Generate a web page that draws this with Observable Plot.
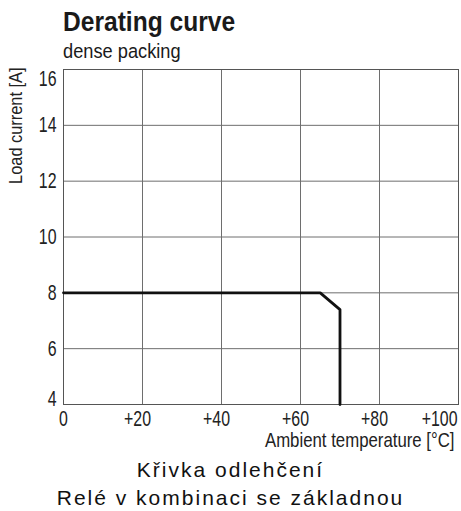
<!DOCTYPE html>
<html>
<head>
<meta charset="utf-8">
<script src="https://cdn.jsdelivr.net/npm/d3@7"></script>
<script src="https://cdn.jsdelivr.net/npm/@observablehq/plot@0.6"></script>
<style>
  html, body { margin: 0; padding: 0; background: #fff; }
  #wrap { position: relative; width: 461px; height: 511px; overflow: hidden; }
  .t { position: absolute; line-height: 1; white-space: nowrap; color: #1a1a1a;
       font-family: "Liberation Sans", Arial, sans-serif; transform-origin: 0 0; }
  #title { left: 63px; top: 9px; font-size: 27px; font-weight: bold; transform: scaleX(0.91); }
  #subtitle { left: 63px; top: 41px; font-size: 20.5px; transform: scaleX(0.89); }
  .cap { left: 0; width: 461px; text-align: center; font-size: 21px; letter-spacing: 2px; color: #111; }
  #chart { position: absolute; left: 0; top: 0; }
</style>
</head>
<body>
<div id="wrap">
  <div id="chart"></div>
  <div id="title" class="t">Derating curve</div>
  <div id="subtitle" class="t">dense packing</div>
  <div id="cap1" class="t cap" style="top:459px">Křivka odlehčení</div>
  <div id="cap2" class="t cap" style="top:487px">Relé v kombinaci se základnou</div>
</div>
<script>
// Data
const temperature = [0, 65, 70, 70];      // °C
const loadCurrent = [8, 8, 7.4, 4];       // A
const xTicks = [0, 20, 40, 60, 80, 100];
const yTicks = [4, 6, 8, 10, 12, 14, 16];
const xLabel = "Ambient temperature [°C]";
const yLabel = "Load current [A]";

const curve = temperature.map((t, i) => ({t, a: loadCurrent[i]}));
const fmtX = d => d === 0 ? "0" : "+" + d;
const fontFam = '"Liberation Sans", Arial, sans-serif';
const ink = "#222";

const chart = Plot.plot({
  width: 461,
  height: 455,
  marginTop: 69,
  marginLeft: 63,
  marginRight: 3,
  marginBottom: 51,
  x: {domain: [0, 100], axis: null},
  y: {domain: [4, 16], axis: null},
  style: {fontFamily: fontFam, fontSize: "21.5px", color: ink, background: "white"},
  marks: [
    Plot.gridX(xTicks, {stroke: "#6e6e6e", strokeOpacity: 1, strokeWidth: 1}),
    Plot.gridY(yTicks, {stroke: "#6e6e6e", strokeOpacity: 1, strokeWidth: 1}),
    Plot.frame({stroke: "#555"}),
    Plot.line(curve, {x: "t", y: "a", stroke: "#111", strokeWidth: 2.8}),
    // x tick labels
    Plot.text(xTicks.filter(d => d === 0), {x: d => d, text: fmtX, frameAnchor: "bottom", lineAnchor: "top", dy: 6, fill: ink}),
    Plot.text(xTicks.filter(d => d > 0 && d < 100), {x: d => d, text: fmtX, frameAnchor: "bottom", lineAnchor: "top", dy: 6, dx: -5, fill: ink}),
    Plot.text(xTicks.filter(d => d === 100), {x: d => d, text: fmtX, frameAnchor: "bottom", lineAnchor: "top", textAnchor: "end", dy: 6, dx: -1, fill: ink}),
    // y tick labels
    Plot.text(yTicks.filter(d => d > 4 && d < 16), {y: d => d, text: String, frameAnchor: "left", textAnchor: "end", dx: -7, fill: ink}),
    Plot.text(yTicks.filter(d => d === 16), {y: d => d, text: String, frameAnchor: "left", textAnchor: "end", lineAnchor: "top", dx: -7, dy: 1.5, fill: ink}),
    Plot.text(yTicks.filter(d => d === 4), {y: d => d, text: String, frameAnchor: "left", textAnchor: "end", lineAnchor: "bottom", dx: -7, dy: 1, fill: ink}),
    // axis labels
    Plot.text([xLabel], {frameAnchor: "bottom-right", textAnchor: "end", lineAnchor: "bottom", dx: -4, dy: 42, fontSize: 20, fill: ink}),
    Plot.text([yLabel], {frameAnchor: "top-left", textAnchor: "end", lineAnchor: "bottom", rotate: -90, dx: -42, dy: -2, fontSize: 18, fill: ink})
  ]
});

// Condense the SVG text horizontally (the reference uses a condensed face)
const tickSet = new Set([...xTicks.map(fmtX), ...yTicks.map(String)]);
d3.select(chart).selectAll("text").each(function () {
  const s = this.textContent;
  const k = s === xLabel ? 0.84 : s === yLabel ? 0.91 : tickSet.has(s) ? 0.74 : 1;
  if (k === 1) return;
  const tr = this.getAttribute("transform");
  if (tr) {
    this.setAttribute("transform", tr + ` scale(${k},1)`);
  } else {
    const x = +(this.getAttribute("x") || 0), y = this.getAttribute("y");
    this.setAttribute("transform", `translate(${x},0) scale(${k},1)`);
    this.removeAttribute("x");
  }
});
document.getElementById("chart").appendChild(chart);
</script>
</body>
</html>
